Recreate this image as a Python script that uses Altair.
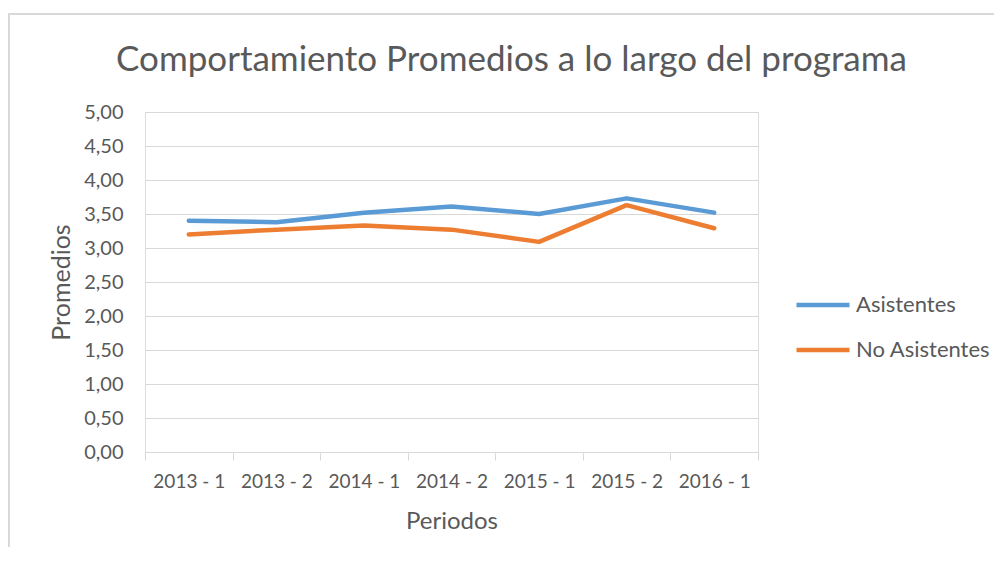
import altair as alt
import pandas as pd

periodos = ["2013 - 1", "2013 - 2", "2014 - 1", "2014 - 2", "2015 - 1", "2015 - 2", "2016 - 1"]
asistentes = [3.40, 3.38, 3.52, 3.61, 3.50, 3.73, 3.52]
no_asistentes = [3.20, 3.27, 3.33, 3.27, 3.09, 3.63, 3.29]
series_names = ["Asistentes", "No Asistentes"]
series_colors = ["#5B9BD5", "#ED7D31"]

rows = []
for p, a, n in zip(periodos, asistentes, no_asistentes):
    rows.append({"Periodo": p, "Serie": series_names[0], "Valor": a})
    rows.append({"Periodo": p, "Serie": series_names[1], "Valor": n})
df = pd.DataFrame(rows)

FONT = "Lato"
TXT = "#595959"
GRID = "#d9d9d9"

lines = alt.Chart(df).mark_line(strokeWidth=4.5, strokeCap="round", strokeJoin="round").encode(
    x=alt.X("Periodo:N", sort=periodos, title="Periodos",
            scale=alt.Scale(paddingInner=0, paddingOuter=0),
            axis=alt.Axis(labelAngle=0, domainColor=GRID, tickColor=GRID, tickSize=8,
                          tickBand="extent", grid=False, labelPadding=12,
                          labelFontSize=19, titleFontSize=24, titlePadding=18,
                          labelColor=TXT, titleColor=TXT, labelFont=FONT, titleFont=FONT,
                          titleFontWeight="normal")),
    y=alt.Y("Valor:Q", title="Promedios",
            scale=alt.Scale(domain=[0, 5]),
            axis=alt.Axis(values=[0, 0.5, 1, 1.5, 2, 2.5, 3, 3.5, 4, 4.5, 5],
                          labelExpr="replace(format(datum.value, '.2f'), '.', ',')",
                          domain=False, ticks=False, labelPadding=22, gridColor=GRID,
                          labelFontSize=20, titleFontSize=25, titlePadding=9,
                          labelColor=TXT, titleColor=TXT, labelFont=FONT, titleFont=FONT,
                          titleFontWeight="normal")),
    color=alt.Color("Serie:N", sort=series_names,
                    scale=alt.Scale(domain=series_names, range=series_colors),
                    legend=alt.Legend(title=None, orient="none", legendX=649, legendY=164,
                                      symbolType="stroke", symbolSize=2809, symbolStrokeWidth=4.5,
                                      labelFontSize=22, labelFont=FONT, labelColor=TXT,
                                      labelOffset=4, rowPadding=5)),
)

border = alt.Chart(pd.DataFrame({"a": [0]})).mark_rect(
    fill=None, stroke=GRID, strokeWidth=2
).encode(
    x=alt.value(-136), x2=alt.value(900), y=alt.value(-98), y2=alt.value(500)
)

chart = alt.layer(border, lines).properties(
    width=613, height=340,
    title=alt.TitleParams("Comportamiento Promedios a lo largo del programa",
                          fontSize=35, font=FONT, color=TXT, fontWeight="normal",
                          anchor="middle", frame="group", baseline="alphabetic",
                          dx=60, offset=-93),
    autosize=alt.AutoSizeParams(type="none"),
    padding={"left": 137, "top": 104, "right": 236, "bottom": 95},
).configure_view(strokeWidth=0).configure(background="white")

chart.save("out.html", embed_options={"renderer": "svg", "actions": False})
